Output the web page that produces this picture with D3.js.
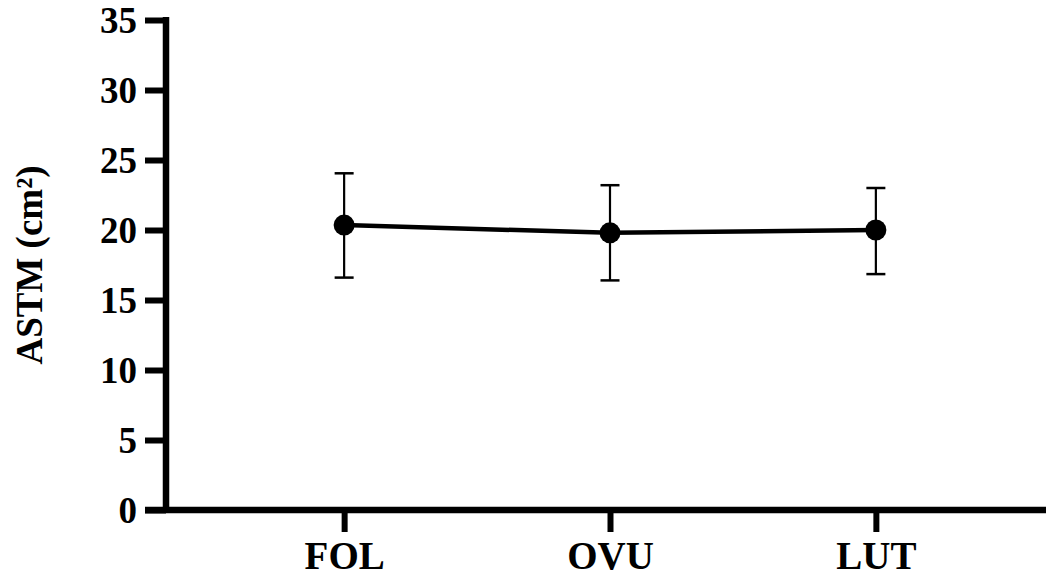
<!DOCTYPE html>
<html>
<head>
<meta charset="utf-8">
<script src="https://cdn.jsdelivr.net/npm/d3@7"></script>
<style>
  body { margin: 0; background: #fff; }
  text { font-family: "Liberation Serif", "Times New Roman", serif; font-weight: bold; fill: #000; }
</style>
</head>
<body>
<div id="chart"></div>
<script>
// data
const categories = ["FOL", "OVU", "LUT"];
const means      = [20.35, 19.8, 20.0];
const upper      = [24.05, 23.2, 23.0];
const lower      = [16.6, 16.4, 16.85];
const yTicks     = [0, 5, 10, 15, 20, 25, 30, 35];

const width  = 1046;
const height = 577;

const svg = d3.select("#chart").append("svg")
  .attr("width", width)
  .attr("height", height);

const y = d3.scaleLinear().domain([0, 35]).range([510, 20]);
const x = d3.scalePoint().domain(categories).range([166, 1054]).padding(0.67);

// y axis
const yAxis = svg.append("g")
  .attr("transform", "translate(166,0)")
  .call(d3.axisLeft(y).tickValues(yTicks).tickSize(21).tickPadding(8).tickFormat(d3.format("d")));
yAxis.select(".domain").attr("stroke-width", 6.5).attr("d", "M0," + (y(35) - 3) + "V" + (y(0) + 3));
yAxis.selectAll(".tick line").attr("stroke-width", 6);
yAxis.selectAll(".tick text").style("font-size", "37px").attr("dy", "0.34em");

// x axis
const xAxis = svg.append("g")
  .attr("transform", "translate(0,510)")
  .call(d3.axisBottom(x).tickSize(22).tickPadding(9));
xAxis.select(".domain").attr("stroke-width", 6.5).attr("d", "M145,0H1050");
xAxis.selectAll(".tick line").attr("stroke-width", 6);
xAxis.selectAll(".tick text").style("font-size", "39px");

// y title
svg.append("text")
  .attr("transform", "translate(42,265) rotate(-90)")
  .attr("text-anchor", "middle")
  .style("font-size", "37px")
  .text("ASTM (cm²)");

const pts = categories.map((c, i) => ({ c, m: means[i], hi: upper[i], lo: lower[i] }));

// error bars
const eb = svg.append("g").selectAll("g").data(pts).enter().append("g");
eb.append("line")
  .attr("x1", d => x(d.c)).attr("x2", d => x(d.c))
  .attr("y1", d => y(d.hi)).attr("y2", d => y(d.lo))
  .attr("stroke", "#000").attr("stroke-width", 2.2);
eb.append("line")
  .attr("x1", d => x(d.c) - 9.5).attr("x2", d => x(d.c) + 9.5)
  .attr("y1", d => y(d.hi)).attr("y2", d => y(d.hi))
  .attr("stroke", "#000").attr("stroke-width", 2.5);
eb.append("line")
  .attr("x1", d => x(d.c) - 9.5).attr("x2", d => x(d.c) + 9.5)
  .attr("y1", d => y(d.lo)).attr("y2", d => y(d.lo))
  .attr("stroke", "#000").attr("stroke-width", 2.5);

// mean line
const line = d3.line().x(d => x(d.c)).y(d => y(d.m));
svg.append("path")
  .datum(pts)
  .attr("d", line)
  .attr("fill", "none")
  .attr("stroke", "#000")
  .attr("stroke-width", 4.5);

svg.append("g").selectAll("circle").data(pts).enter().append("circle")
  .attr("cx", d => x(d.c))
  .attr("cy", d => y(d.m))
  .attr("r", 10.5)
  .attr("fill", "#000");
</script>
</body>
</html>
